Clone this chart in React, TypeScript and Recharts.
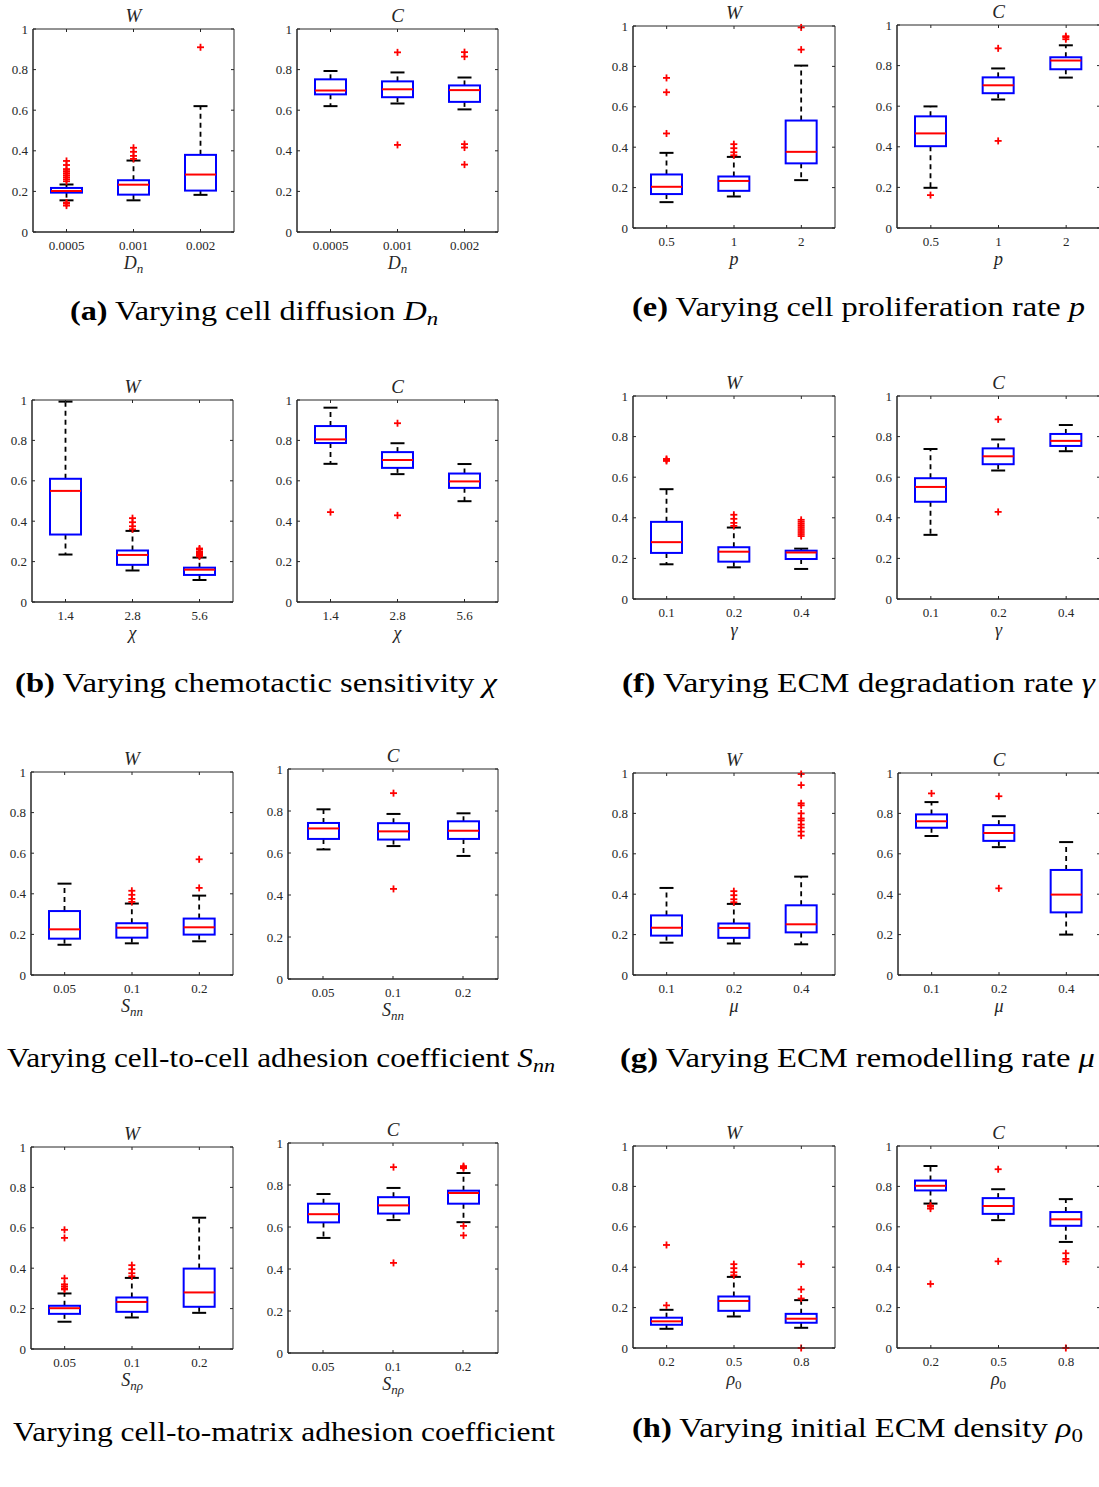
import React from 'react';
import { ComposedChart, Bar, XAxis, YAxis, ReferenceArea } from 'recharts';

// each box: [whisker low, q1, median, q3, whisker high]
const dnCats = ['0.0005', '0.001', '0.002'];
const dnW = [[0.156, 0.194, 0.202, 0.217, 0.234], [0.156, 0.184, 0.233, 0.255, 0.352], [0.183, 0.204, 0.283, 0.38, 0.62]];
const dnWOut = [[0.25, 0.26, 0.27, 0.28, 0.29, 0.3, 0.31, 0.33, 0.35, 0.13, 0.14, 0.145], [0.36, 0.375, 0.395, 0.415], [0.91]];
const dnC = [[0.62, 0.678, 0.697, 0.752, 0.793], [0.633, 0.664, 0.703, 0.742, 0.786], [0.604, 0.641, 0.699, 0.722, 0.761]];
const dnCOut = [[], [0.885, 0.429], [0.886, 0.864, 0.433, 0.416, 0.332]];

const pCats = ['0.5', '1', '2'];
const pW = [[0.128, 0.168, 0.204, 0.265, 0.372], [0.156, 0.184, 0.233, 0.255, 0.352], [0.237, 0.32, 0.377, 0.532, 0.804]];
const pWOut = [[0.468, 0.672, 0.743], [0.36, 0.375, 0.395, 0.415], [0.883, 0.993]];
const pC = [[0.198, 0.403, 0.466, 0.55, 0.599], [0.633, 0.664, 0.703, 0.742, 0.786], [0.741, 0.782, 0.825, 0.841, 0.9]];
const pCOut = [[0.162], [0.885, 0.429], [0.93, 0.94, 0.945]];

const chiCats = ['1.4', '2.8', '5.6'];
const chiW = [[0.235, 0.334, 0.55, 0.61, 0.992], [0.156, 0.184, 0.233, 0.255, 0.352], [0.109, 0.134, 0.16, 0.17, 0.22]];
const chiWOut = [[], [0.36, 0.375, 0.395, 0.415], [0.225, 0.23, 0.235, 0.24, 0.245, 0.25, 0.26, 0.265]];
const chiC = [[0.684, 0.787, 0.805, 0.871, 0.962], [0.633, 0.664, 0.703, 0.742, 0.786], [0.499, 0.565, 0.597, 0.636, 0.683]];
const chiCOut = [[0.445], [0.885, 0.429], []];

const gamCats = ['0.1', '0.2', '0.4'];
const gamW = [[0.171, 0.227, 0.28, 0.38, 0.541], [0.156, 0.184, 0.233, 0.255, 0.352], [0.148, 0.197, 0.229, 0.238, 0.248]];
const gamWOut = [[0.68, 0.685, 0.69], [0.36, 0.375, 0.395, 0.415], [0.31, 0.32, 0.33, 0.34, 0.35, 0.36, 0.37, 0.38, 0.39]];
const gamC = [[0.316, 0.479, 0.552, 0.595, 0.739], [0.633, 0.664, 0.703, 0.742, 0.786], [0.728, 0.754, 0.779, 0.813, 0.857]];
const gamCOut = [[], [0.885, 0.429], []];

const snnCats = ['0.05', '0.1', '0.2'];
const snnW = [[0.149, 0.179, 0.225, 0.315, 0.45], [0.156, 0.184, 0.233, 0.255, 0.352], [0.166, 0.199, 0.235, 0.278, 0.391]];
const snnWOut = [[], [0.36, 0.375, 0.395, 0.415], [0.429, 0.57]];
const snnC = [[0.617, 0.667, 0.717, 0.743, 0.808], [0.633, 0.664, 0.703, 0.742, 0.786], [0.586, 0.667, 0.706, 0.751, 0.789]];
const snnCOut = [[], [0.885, 0.429], []];

const muCats = ['0.1', '0.2', '0.4'];
const muW = [[0.16, 0.195, 0.234, 0.295, 0.431], [0.156, 0.184, 0.233, 0.255, 0.352], [0.152, 0.211, 0.251, 0.345, 0.487]];
const muWOut = [[], [0.36, 0.375, 0.395, 0.415], [0.69, 0.71, 0.73, 0.745, 0.765, 0.775, 0.8, 0.84, 0.85, 0.94, 0.995]];
const muC = [[0.688, 0.729, 0.761, 0.795, 0.856], [0.633, 0.664, 0.703, 0.742, 0.786], [0.2, 0.31, 0.398, 0.52, 0.658]];
const muCOut = [[0.899], [0.885, 0.429], []];

const snpCats = ['0.05', '0.1', '0.2'];
const snpW = [[0.135, 0.174, 0.202, 0.214, 0.275], [0.156, 0.184, 0.233, 0.255, 0.352], [0.179, 0.209, 0.28, 0.398, 0.65]];
const snpWOut = [[0.295, 0.3, 0.31, 0.32, 0.35, 0.55, 0.59], [0.36, 0.375, 0.395, 0.415], []];
const snpC = [[0.548, 0.622, 0.661, 0.711, 0.757], [0.633, 0.664, 0.703, 0.742, 0.786], [0.623, 0.711, 0.762, 0.773, 0.857]];
const snpCOut = [[], [0.885, 0.429], [0.56, 0.605, 0.88, 0.885, 0.89]];

const rhoCats = ['0.2', '0.5', '0.8'];
const rhoW = [[0.095, 0.115, 0.132, 0.15, 0.189], [0.156, 0.184, 0.233, 0.255, 0.352], [0.1, 0.125, 0.145, 0.169, 0.237]];
const rhoWOut = [[0.211, 0.51], [0.36, 0.375, 0.395, 0.415], [0, 0.245, 0.29, 0.415]];
const rhoC = [[0.715, 0.78, 0.803, 0.829, 0.901], [0.633, 0.664, 0.703, 0.742, 0.786], [0.525, 0.605, 0.637, 0.673, 0.737]];
const rhoCOut = [[0.69, 0.7, 0.705, 0.317], [0.885, 0.429], [0.428, 0.441, 0.469, 0]];

const yTicks = [0, 0.2, 0.4, 0.6, 0.8, 1];

const SERIF = '"Liberation Serif", "Times New Roman", serif';
const AX = '#262626';

const BoxShape = (props: any) => {
  const { x, y, width, height, payload } = props;
  if (!payload) return null;
  const top = Math.min(y, y + height);
  const bot = Math.max(y, y + height);
  const { lo, q1, med, q3, hi, out } = payload;
  // linear map from value to pixel, taken from the bar's own scaled extent
  const py = (v: number) => bot - ((v - lo) / (hi - lo)) * (bot - top);
  const cx = x + width / 2;
  const cap = 7;
  return (
    <g>
      <line x1={cx} x2={cx} y1={py(q3)} y2={py(hi)} stroke="#000" strokeWidth={1.8} strokeDasharray="5 4" />
      <line x1={cx} x2={cx} y1={py(q1)} y2={py(lo)} stroke="#000" strokeWidth={1.8} strokeDasharray="5 4" />
      <line x1={cx - cap} x2={cx + cap} y1={py(hi)} y2={py(hi)} stroke="#000" strokeWidth={2} />
      <line x1={cx - cap} x2={cx + cap} y1={py(lo)} y2={py(lo)} stroke="#000" strokeWidth={2} />
      <rect x={x} y={py(q3)} width={width} height={py(q1) - py(q3)} fill="#fff" stroke="#0000ff" strokeWidth={2} />
      <line x1={x} x2={x + width} y1={py(med)} y2={py(med)} stroke="#ff0000" strokeWidth={2} />
      {out.map((v: number, i: number) => (
        <g key={i}>
          <line x1={cx - 3.5} x2={cx + 3.5} y1={py(v)} y2={py(v)} stroke="#ff0000" strokeWidth={1.8} />
          <line x1={cx} x2={cx} y1={py(v) - 3.5} y2={py(v) + 3.5} stroke="#ff0000" strokeWidth={1.8} />
        </g>
      ))}
    </g>
  );
};

const XTick = (props: any) => {
  const { x, y, payload, plotH } = props;
  return (
    <g>
      <line x1={x} x2={x} y1={y} y2={y - 3} stroke={AX} />
      <line x1={x} x2={x} y1={y - plotH} y2={y - plotH + 3} stroke={AX} />
      <text x={x} y={y + 18} textAnchor="middle" fontSize={13} fill={AX} fontFamily={SERIF}>
        {payload.value}
      </text>
    </g>
  );
};

const YTick = (props: any) => {
  const { x, y, payload, plotW } = props;
  return (
    <g>
      <line x1={x} x2={x + 3} y1={y} y2={y} stroke={AX} />
      <line x1={x + plotW} x2={x + plotW - 3} y1={y} y2={y} stroke={AX} />
      <text x={x - 5} y={y + 4.5} textAnchor="end" fontSize={13} fill={AX} fontFamily={SERIF}>
        {String(payload.value)}
      </text>
    </g>
  );
};

type PanelProps = {
  left: number;
  top: number;
  w: number;
  h: number;
  cats: string[];
  stats: number[][];
  outs: number[][];
};

function Panel({ left, top, w, h, cats, stats, outs }: PanelProps) {
  const data = cats.map((c, i) => ({
    cat: c,
    lo: stats[i][0],
    q1: stats[i][1],
    med: stats[i][2],
    q3: stats[i][3],
    hi: stats[i][4],
    range: [stats[i][0], stats[i][4]],
    out: outs[i],
  }));
  return (
    <div style={{ position: 'absolute', left: left - 40, top: top - 30 }}>
      <ComposedChart width={w + 50} height={h + 80} data={data} margin={{ top: 30, right: 10, bottom: 0, left: 0 }}>
        <XAxis
          dataKey="cat"
          height={50}
          tickSize={0}
          tickMargin={0}
          tickLine={false}
          interval={0}
          axisLine={{ stroke: AX }}
          tick={(p: any) => <XTick {...p} plotH={h} />}
        />
        <YAxis
          type="number"
          domain={[0, 1]}
          ticks={yTicks}
          width={40}
          tickSize={0}
          tickMargin={0}
          tickLine={false}
          axisLine={{ stroke: AX }}
          tick={(p: any) => <YTick {...p} plotW={w} />}
        />
        <ReferenceArea y1={0} y2={1} fill="none" stroke={AX} strokeWidth={1} />
        <Bar dataKey="range" barSize={31} isAnimationActive={false} shape={BoxShape} />
      </ComposedChart>
    </div>
  );
}

const panels = [
  { left: 33, top: 29, w: 201, h: 203, cats: dnCats, stats: dnW, outs: dnWOut, t: 'W' },
  { left: 297, top: 29, w: 201, h: 203, cats: dnCats, stats: dnC, outs: dnCOut, t: 'C' },
  { left: 633, top: 26, w: 202, h: 202, cats: pCats, stats: pW, outs: pWOut, t: 'W' },
  { left: 897, top: 25, w: 203, h: 203, cats: pCats, stats: pC, outs: pCOut, t: 'C' },
  { left: 32, top: 400, w: 201, h: 202, cats: chiCats, stats: chiW, outs: chiWOut, t: 'W' },
  { left: 297, top: 400, w: 201, h: 202, cats: chiCats, stats: chiC, outs: chiCOut, t: 'C' },
  { left: 633, top: 396, w: 202, h: 203, cats: gamCats, stats: gamW, outs: gamWOut, t: 'W' },
  { left: 897, top: 396, w: 203, h: 203, cats: gamCats, stats: gamC, outs: gamCOut, t: 'C' },
  { left: 31, top: 772, w: 202, h: 203, cats: snnCats, stats: snnW, outs: snnWOut, t: 'W' },
  { left: 288, top: 769, w: 210, h: 210, cats: snnCats, stats: snnC, outs: snnCOut, t: 'C' },
  { left: 633, top: 773, w: 202, h: 202, cats: muCats, stats: muW, outs: muWOut, t: 'W' },
  { left: 898, top: 773, w: 202, h: 202, cats: muCats, stats: muC, outs: muCOut, t: 'C' },
  { left: 31, top: 1147, w: 202, h: 202, cats: snpCats, stats: snpW, outs: snpWOut, t: 'W' },
  { left: 288, top: 1143, w: 210, h: 210, cats: snpCats, stats: snpC, outs: snpCOut, t: 'C' },
  { left: 633, top: 1146, w: 202, h: 202, cats: rhoCats, stats: rhoW, outs: rhoWOut, t: 'W' },
  { left: 897, top: 1146, w: 203, h: 202, cats: rhoCats, stats: rhoC, outs: rhoCOut, t: 'C' },
];

const sub = (main: string, s: string, upright = false) => (
  <>
    <tspan fontStyle="italic">{main}</tspan>
    <tspan fontStyle={upright ? 'normal' : 'italic'} fontSize={13} dy={4}>
      {s}
    </tspan>
  </>
);

const xLabels = [
  sub('D', 'n'),
  sub('D', 'n'),
  <tspan fontStyle="italic">p</tspan>,
  <tspan fontStyle="italic">p</tspan>,
  <tspan fontStyle="italic">χ</tspan>,
  <tspan fontStyle="italic">χ</tspan>,
  <tspan fontStyle="italic">γ</tspan>,
  <tspan fontStyle="italic">γ</tspan>,
  sub('S', 'nn'),
  sub('S', 'nn'),
  <tspan fontStyle="italic">μ</tspan>,
  <tspan fontStyle="italic">μ</tspan>,
  sub('S', 'nρ'),
  sub('S', 'nρ'),
  sub('ρ', '0', true),
  sub('ρ', '0', true),
];

const capSub = (main: string, s: string, upright = false) => (
  <>
    <tspan fontStyle="italic">{main}</tspan>
    <tspan fontStyle={upright ? 'normal' : 'italic'} fontSize={19} dy={5}>
      {s}
    </tspan>
  </>
);

const captions = [
  { x: 70, y: 320, len: 368, body: <><tspan fontWeight="bold">(a)</tspan>{' Varying cell diffusion '}{capSub('D', 'n')}</> },
  { x: 632, y: 316, len: 453, body: <><tspan fontWeight="bold">(e)</tspan>{' Varying cell proliferation rate '}<tspan fontStyle="italic">p</tspan></> },
  { x: 15, y: 692, len: 482, body: <><tspan fontWeight="bold">(b)</tspan>{' Varying chemotactic sensitivity '}<tspan fontStyle="italic">χ</tspan></> },
  { x: 622, y: 692, len: 473, body: <><tspan fontWeight="bold">(f)</tspan>{' Varying ECM degradation rate '}<tspan fontStyle="italic">γ</tspan></> },
  { x: 7, y: 1067, len: 548, body: <>{'Varying cell-to-cell adhesion coefficient '}{capSub('S', 'nn')}</> },
  { x: 620, y: 1067, len: 475, body: <><tspan fontWeight="bold">(g)</tspan>{' Varying ECM remodelling rate '}<tspan fontStyle="italic">μ</tspan></> },
  { x: 13, y: 1441, len: 542, body: <>{'Varying cell-to-matrix adhesion coefficient'}</> },
  { x: 632, y: 1437, len: 451, body: <><tspan fontWeight="bold">(h)</tspan>{' Varying initial ECM density '}{capSub('ρ', '0', true)}</> },
];

export default function App() {
  return (
    <div style={{ position: 'absolute', left: 0, top: 0, width: 1099, height: 1487, overflow: 'hidden', background: '#fff' }}>
      {panels.map((p, i) => (
        <Panel key={i} left={p.left} top={p.top} w={p.w} h={p.h} cats={p.cats} stats={p.stats} outs={p.outs} />
      ))}
      <svg width={1099} height={1487} style={{ position: 'absolute', left: 0, top: 0, pointerEvents: 'none' }}>
        {panels.map((p, i) => (
          <g key={i} fontFamily={SERIF} fill={AX}>
            <text x={p.left + p.w / 2} y={p.top - 7} textAnchor="middle" fontSize={19} fontStyle="italic">
              {p.t}
            </text>
            <text x={p.left + p.w / 2} y={p.top + p.h + 37} textAnchor="middle" fontSize={18}>
              {xLabels[i]}
            </text>
          </g>
        ))}
        {captions.map((c, i) => (
          <text key={i} x={c.x} y={c.y} fontSize={27} fontFamily={SERIF} fill="#000" textLength={c.len} lengthAdjust="spacingAndGlyphs">
            {c.body}
          </text>
        ))}
      </svg>
    </div>
  );
}
